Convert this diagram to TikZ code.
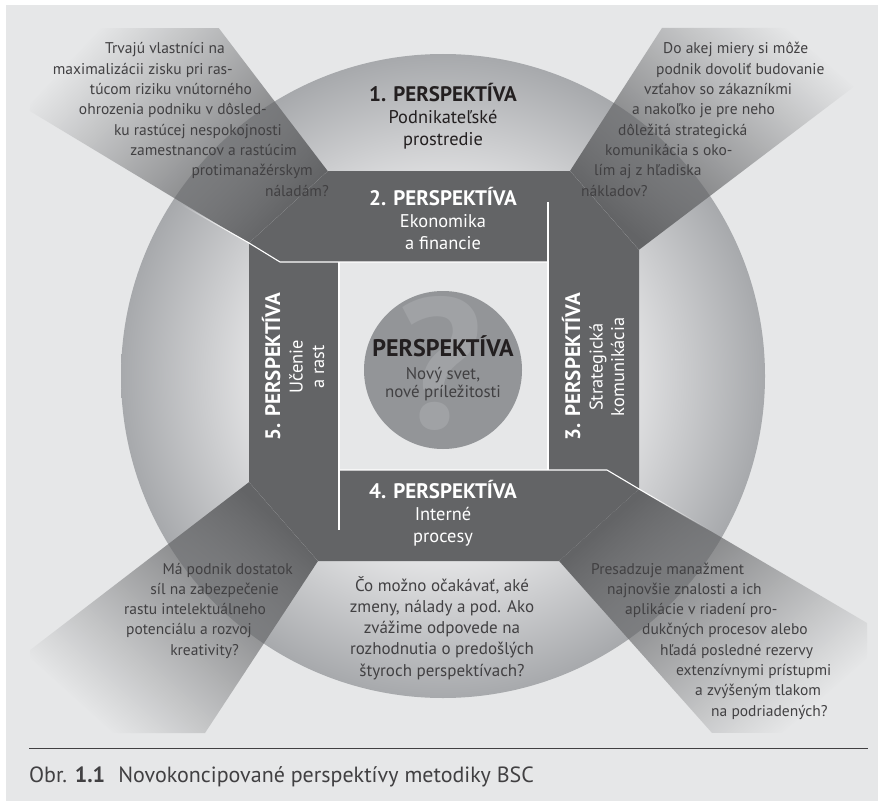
\documentclass[tikz,border=0pt]{standalone}
\usepackage{fontspec}
\setmainfont{PT Sans}
\usetikzlibrary{fadings}
\definecolor{bsc-paper}{HTML}{E6E7E8}
\definecolor{bsc-bar}{HTML}{636466}
\definecolor{bsc-ring}{HTML}{A7A9AC}
\definecolor{bsc-hi}{HTML}{F0F0F1}
\definecolor{bsc-core}{HTML}{939598}
\definecolor{bsc-mark}{HTML}{A0A2A5}
\definecolor{bsc-ink}{HTML}{414042}
\definecolor{bsc-black}{HTML}{231F20}
\colorlet{ask}{bsc-ink}
% light middle, grey rim
\pgfdeclareradialshading{ringshade}{\pgfpointorigin}{%
  color(0bp)=(white); color(12bp)=(bsc-hi); color(25bp)=(bsc-ring); color(50bp)=(bsc-ring)}
\tikzfading[name=fanfade, left color=transparent!100, right color=transparent!0]
\tikzset{
  fan/.style={fill=bsc-bar, path fading=fanfade, fading angle=#1},
  sepline/.style={draw=white, line width=1.1bp},
  fantext/.style={text=ask, inner sep=0pt, font=\fontsize{15.5bp}{20.3bp}\selectfont},
  headline/.style={align=center, inner sep=0pt, font=\fontsize{18.4bp}{21.5bp}\selectfont},
}
\newcommand{\perspektiva}[1]{{\fontsize{21bp}{23bp}\selectfont\bfseries #1. PERSPEKTÍVA}}
% one node per line, x of each line given, baselines 20.3bp apart
\newcommand{\fanlines}[4][]{%
\foreach \pos/\txt [count=\i] in {#4} {%
  \node[fantext,#1] (#2-\i) at (\pos,{#3+(\i-1)*20.3}) {\txt};
}}

\begin{document}
\begin{tikzpicture}[x=1bp, y=-1bp]
\useasboundingbox (0,0) rectangle (883,801);
\fill[bsc-paper] (6,5) rectangle (878,801);
% ring
\shade[shading=ringshade] (443,376) circle[radius=322];
% pinwheel of the four bars
\fill[bsc-bar] (328,171) -- (570,171) -- (639,250) -- (639,489) -- (559,561)
  -- (318,561) -- (249,482) -- (249,243) -- cycle;
% fans running out to the corners
\fill[fan=-34] (219,28) -- (328,171) -- (249,243) -- (30,111) -- (30,28) -- cycle;
\fill[fan=-139] (662,28) -- (867,28) -- (867,77) -- (639,250) -- (570,171) -- cycle;
\fill[fan=138] (639,489) -- (867,623) -- (867,733) -- (712,733) -- (559,561) -- cycle;
\fill[fan=44] (249,482) -- (318,561) -- (205,733) -- (30,733) -- (30,650) -- cycle;
% window in the middle
\fill[bsc-paper] (339,262) rectangle (548,470);
% white joints between the bars
\draw[sepline] (249,243) -- (280,262) -- (548,262);
\draw[sepline] (548,202) -- (548,470);
\draw[sepline] (339,470) -- (607,470) -- (639,489);
\draw[sepline] (339,262) -- (339,530);
\draw[sepline, path fading=fanfade, fading angle=-30] (170,198) -- (249,243);
\draw[sepline, path fading=fanfade, fading angle=150] (721,537) -- (639,489);

% core
\node[circle, fill=bsc-core, minimum size=158bp, inner sep=0pt] (core) at (443,370) {};
\node[text=bsc-mark, inner sep=0pt, font=\fontsize{185bp}{185bp}\selectfont\bfseries] (mark) at (440,363) {?};
\node[align=center, inner sep=0pt, text=ask, font=\fontsize{16.9bp}{17.5bp}\selectfont] (core-text) at (443,368)
  {{\fontsize{24bp}{25bp}\selectfont\bfseries\color{bsc-black}PERSPEKTÍVA}\\[6bp]Nový svet,\\nové príležitosti};

% perspectives
\node[headline, text=bsc-black] (p1) at (443,116) {\perspektiva{1}\\[1bp]Podnikateľské\\prostredie};
\node[headline, text=white] (p2) at (443,218) {\perspektiva{2}\\[1bp]Ekonomika\\a financie};
\node[headline, text=white, rotate=90] (p3) at (593,367) {\perspektiva{3}\\[1bp]Strategická\\komunikácia};
\node[headline, text=white] (p4) at (443,513) {\perspektiva{4}\\[1bp]Interné\\procesy};
\node[headline, text=white, rotate=90] (p5) at (293,367) {\perspektiva{5}\\[1bp]Učenie\\a rast};

% questions
\fanlines[anchor=base east]{ask-tl}{54}{225/Trvajú vlastníci na, 233/maximalizácii zisku pri ras-,
  252/túcom riziku vnútorného, 267/ohrozenia podniku v dôsled-, 282/ku rastúcej nespokojnosti,
  297/zamestnancov a rastúcim, 313/protimanažérskym, 329/náladám?}
\fanlines[anchor=base west]{ask-tr}{54}{663/Do akej miery si môže, 656/podnik dovoliť budovanie,
  644/vzťahov so zákazníkmi, 632/a nakoľko je pre neho, 618/dôležitá strategická,
  605/komunikácia s oko-, 594/lím aj z hľadiska, 581/nákladov?}
\fanlines[anchor=base east]{ask-bl}{574}{293/Má podnik dostatok, 279/síl na zabezpečenie,
  266/rastu intelektuálneho, 252/potenciálu a rozvoj, 239/kreativity?}
\fanlines[anchor=base west]{ask-br}{574}{591/Presadzuje manažment, 607/najnovšie znalosti a ich,
  625/aplikácie v riadení pro-, 642/dukčných procesov alebo, 660/hľadá posledné rezervy,
  676/extenzívnymi prístupmi, 695/a zvýšeným tlakom, 711/na podriadených?}
\node[headline, text=ask, font=\fontsize{17bp}{21.2bp}\selectfont] (ask-b) at (442,628)
  {Čo možno očakávať, aké\\zmeny, nálady a pod. Ako\\zvážime odpovede na\\rozhodnutia o predošlých\\štyroch perspektívach?};

% caption
\draw[bsc-ink, line width=1bp] (29,748) -- (868,748);
\node[anchor=base west, inner sep=0pt, text=bsc-ink, font=\fontsize{22bp}{26bp}\selectfont] (caption) at (29,782)
  {Obr. \textbf{1.1}\hspace{0.6em}Novokoncipované perspektívy metodiky BSC};
\end{tikzpicture}
\end{document}
